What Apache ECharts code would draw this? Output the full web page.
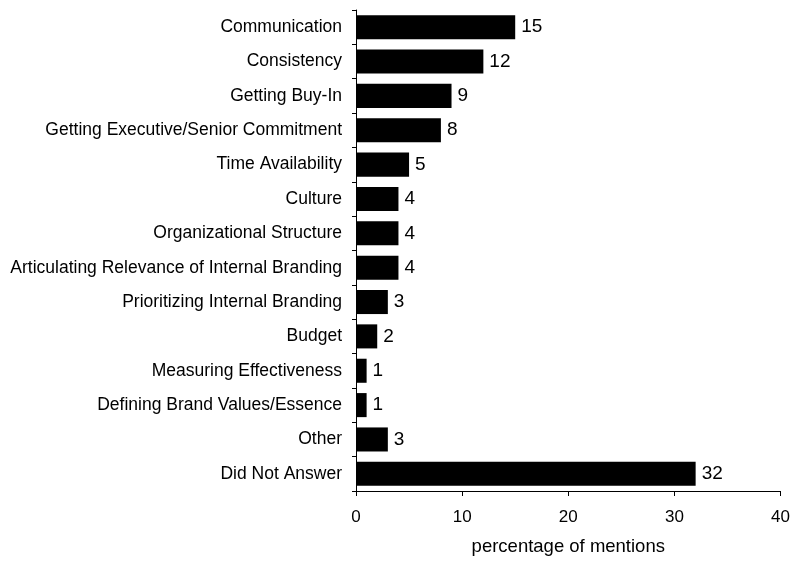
<!DOCTYPE html>
<html>
<head>
<meta charset="utf-8">
<script src="https://cdn.jsdelivr.net/npm/echarts@6/dist/echarts.min.js"></script>
<style>html,body{margin:0;padding:0;background:#fff}#chart{width:793px;height:561px}</style>
</head>
<body>
<div id="chart"></div>
<script>
// Reported challenges, listed top to bottom
const categories = [
  "Communication",
  "Consistency",
  "Getting Buy-In",
  "Getting Executive/Senior Commitment",
  "Time Availability",
  "Culture",
  "Organizational Structure",
  "Articulating Relevance of Internal Branding",
  "Prioritizing Internal Branding",
  "Budget",
  "Measuring Effectiveness",
  "Defining Brand Values/Essence",
  "Other",
  "Did Not Answer"
];
const mentions = [15, 12, 9, 8, 5, 4, 4, 4, 3, 2, 1, 1, 3, 32];
const xTicks = [0, 10, 20, 30, 40];

const chart = echarts.init(document.getElementById('chart'));
const font = 'Liberation Sans, Arial, sans-serif';
chart.setOption({
  animation: false,
  grid: { left: 356, right: 8, top: 10, bottom: 65 },
  xAxis: {
    type: 'value',
    min: xTicks[0],
    max: xTicks[xTicks.length - 1],
    interval: 10,
    name: 'percentage of mentions',
    nameLocation: 'middle',
    nameGap: 46,
    nameTextStyle: { fontFamily: font, fontSize: 18.5, color: '#000' },
    axisLine: { show: true, lineStyle: { color: '#000', width: 1 } },
    axisTick: { show: true, length: 5, lineStyle: { color: '#000' } },
    axisLabel: { fontFamily: font, fontSize: 17, color: '#000', margin: 18 },
    splitLine: { show: false }
  },
  yAxis: {
    type: 'category',
    inverse: true,
    data: categories,
    axisLine: { show: true, lineStyle: { color: '#000', width: 1 } },
    axisTick: { show: true, length: 4, inside: false, alignWithLabel: false, lineStyle: { color: '#000' } },
    axisLabel: { fontFamily: font, fontSize: 17.5, color: '#000', margin: 14 }
  },
  series: [{
    type: 'bar',
    data: mentions,
    barCategoryGap: '30%',
    itemStyle: { color: '#000' },
    label: {
      show: true,
      position: 'right',
      distance: 6,
      fontFamily: font,
      fontSize: 19,
      color: '#000'
    }
  }]
});
</script>
</body>
</html>
